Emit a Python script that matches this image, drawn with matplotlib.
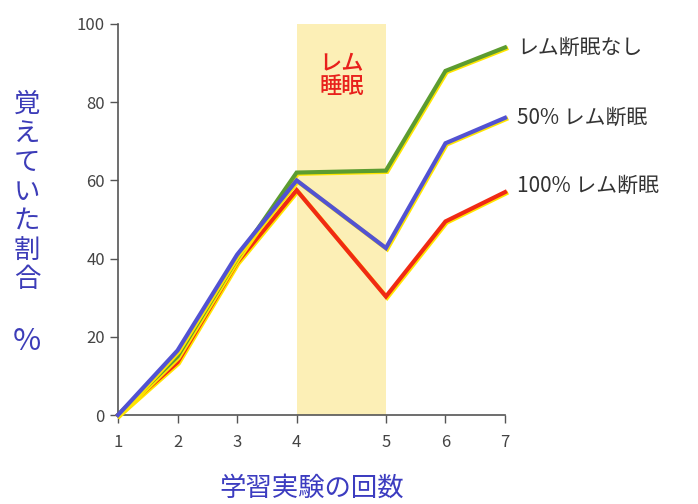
import matplotlib
matplotlib.use("Agg")
import matplotlib.pyplot as plt
import matplotlib.patheffects as pe

plt.rcParams['font.family'] = ['Noto Sans CJK JP', 'DejaVu Sans']

# 学習実験の回数 (4と5の間は間隔が広い)
trials = [1, 2, 3, 4, 5, 6, 7]
x_pos = [1, 2, 3, 4, 5.5, 6.5, 7.5]

no_depr = [0, 15, 40, 62, 62.5, 88, 94]
half_depr = [0, 16.5, 41, 60, 42.7, 69.5, 76]
full_depr = [0, 13.5, 39, 57.5, 30.3, 49.5, 57]

series = [
    (full_depr, '#f02a14', '100% レム断眠'),
    (no_depr, '#5c9c30', 'レム断眠なし'),
    (half_depr, '#5252d2', '50% レム断眠'),
]
label_y = {'レム断眠なし': 94, '50% レム断眠': 76, '100% レム断眠': 58.5}

fig = plt.figure(figsize=(6.98, 5.04), dpi=100)
ax = fig.add_axes([118 / 698, 89 / 504, 387 / 698, 391 / 504])

# レム睡眠の帯
ax.axvspan(x_pos[3], x_pos[4], ymin=0, ymax=1.005, color='#fcefb6', zorder=0, lw=0)
ax.text((x_pos[3] + x_pos[4]) / 2, 87, 'レム\n睡眠', color='#e8201c', fontsize=16,
        ha='center', va='center', linespacing=1.0, fontweight='medium')

shadow = [pe.SimpleLineShadow(offset=(0.9, -0.9), shadow_color='#ffe600', alpha=1.0, rho=1),
          pe.Normal()]
for vals, col, name in series:
    ax.plot(x_pos, vals, color=col, lw=3, solid_joinstyle='miter',
            path_effects=shadow, clip_on=False, zorder=3)
    ax.text(7.7, label_y[name], name, color='#333333', fontsize=15,
            va='center', ha='left')

ax.set_xlim(1, 7.5)
ax.set_ylim(0, 100)
ax.set_xticks(x_pos)
ax.set_xticklabels([str(t) for t in trials])
ax.set_yticks([0, 20, 40, 60, 80, 100])
for s in ['top', 'right']:
    ax.spines[s].set_visible(False)
for s in ['left', 'bottom']:
    ax.spines[s].set_color('#555555')
    ax.spines[s].set_linewidth(1.2)
ax.tick_params(colors='#555555', labelcolor='#444444', labelsize=12, length=6, width=1)
ax.tick_params(axis='x', pad=8)

fig.text(27 / 698, 1 - 192 / 504, '\n'.join('覚えていた割合'), color='#3c3cb8',
         fontsize=19, ha='center', va='center', linespacing=1.1)
fig.text(27 / 698, 1 - 342 / 504, '%', color='#3c3cb8', fontsize=22,
         ha='center', va='center')
fig.text(312 / 698, 1 - 488 / 504, '学習実験の回数', color='#3c3cc0',
         fontsize=19, ha='center', va='center')

fig.savefig('out.png', dpi=100)
